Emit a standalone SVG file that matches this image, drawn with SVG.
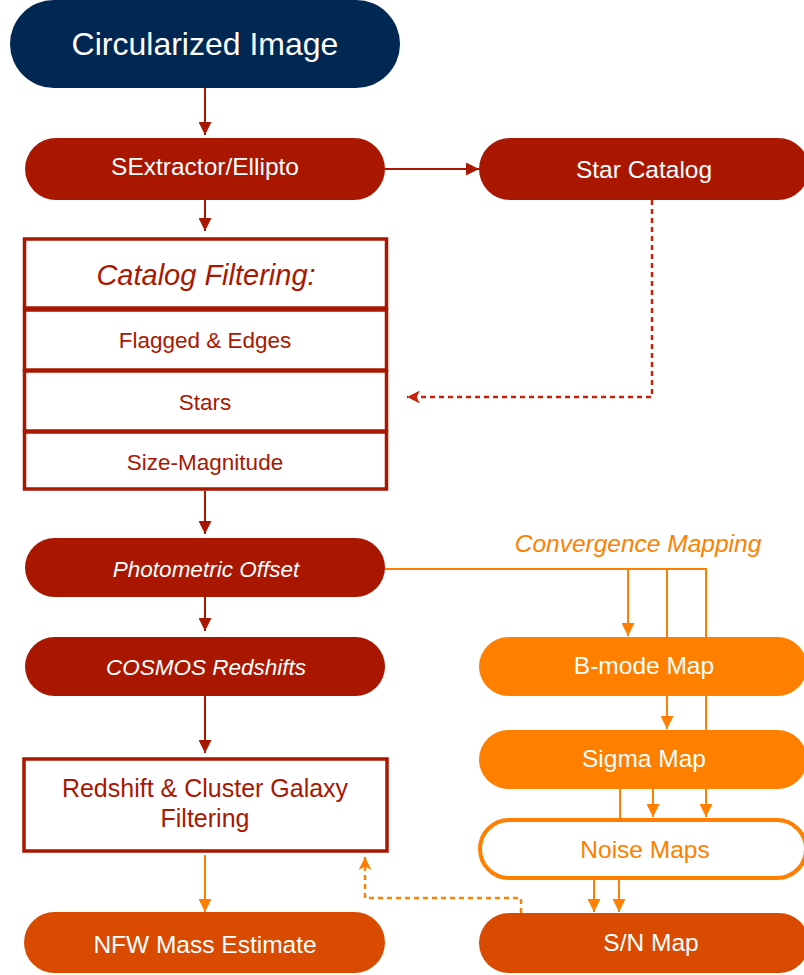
<svg xmlns="http://www.w3.org/2000/svg" width="804" height="975" viewBox="0 0 804 975">
<defs>
<style>
text{font-family:"Liberation Sans",Arial,sans-serif;text-anchor:middle}
.w{fill:#ffffff}
.r{fill:#A91700}
.o{fill:#FF7F00}
.it{font-style:italic}
.navy{fill:#012753}
.red{fill:#A91700}
.org{fill:#FF7F00}
.dorg{fill:#D94B00}
.box{fill:#ffffff;stroke:#A91700;stroke-width:3.5}
.lr{fill:none;stroke:#A91700;stroke-width:2}
.lo{fill:none;stroke:#FF7F00;stroke-width:2}
.dr{fill:none;stroke:#C8200A;stroke-width:2.5;stroke-dasharray:5 4}
.do{fill:none;stroke:#FF7F00;stroke-width:2.5;stroke-dasharray:5 4}
</style>
<marker id="ar" viewBox="0 0 13 13" refX="13" refY="6.5" markerWidth="13" markerHeight="13" markerUnits="userSpaceOnUse" orient="auto"><path d="M0,0 L13,6.5 L0,13 z" fill="#A91700"/></marker>
<marker id="ao" viewBox="0 0 13 13" refX="13" refY="6.5" markerWidth="13" markerHeight="13" markerUnits="userSpaceOnUse" orient="auto"><path d="M0,0 L13,6.5 L0,13 z" fill="#FF7F00"/></marker>
<marker id="adr" viewBox="0 0 13 13" refX="13" refY="6.5" markerWidth="13" markerHeight="13" markerUnits="userSpaceOnUse" orient="auto"><path d="M0,0 L13,6.5 L0,13 L3.5,6.5 z" fill="#C8200A"/></marker>
<marker id="ado" viewBox="0 0 13 13" refX="13" refY="6.5" markerWidth="13" markerHeight="13" markerUnits="userSpaceOnUse" orient="auto"><path d="M0,0 L13,6.5 L0,13 L3.5,6.5 z" fill="#FF7F00"/></marker>
</defs>
<rect width="804" height="975" fill="#ffffff"/>
<g id="connectors">
<path class="lr" d="M205,88 V135" marker-end="url(#ar)"/>
<path class="lr" d="M205,200 V231" marker-end="url(#ar)"/>
<path class="lr" d="M385,169 H479" marker-end="url(#ar)"/>
<path class="dr" d="M652,200 V397 H407" marker-end="url(#adr)"/>
<path class="lr" d="M205,491 V534" marker-end="url(#ar)"/>
<path class="lr" d="M205,597 V631" marker-end="url(#ar)"/>
<path class="lr" d="M205,696 V753" marker-end="url(#ar)"/>
<path class="lo" d="M205,855 V912" marker-end="url(#ao)"/>
<path class="lo" d="M385,569 H706 V817" marker-end="url(#ao)"/>
<path class="lo" d="M628,569 V636" marker-end="url(#ao)"/>
<path class="lo" d="M667,569 V729" marker-end="url(#ao)"/>
<path class="lo" d="M620,789 V820"/>
<path class="lo" d="M653,789 V817" marker-end="url(#ao)"/>
<path class="lo" d="M594,878 V912" marker-end="url(#ao)"/>
<path class="lo" d="M619,878 V912" marker-end="url(#ao)"/>
<path class="do" d="M521,913 V898 H365 V857" marker-end="url(#ado)"/>
</g>
<g id="circularized-image">
<rect class="navy" x="10" y="0" width="390" height="88" rx="44"/>
<text class="w" x="205" y="55" font-size="32">Circularized Image</text>
</g>
<g id="sextractor">
<rect class="red" x="25" y="138" width="360" height="62" rx="31"/>
<text class="w" x="205" y="175" font-size="24.5">SExtractor/Ellipto</text>
</g>
<g id="star-catalog">
<rect class="red" x="479" y="138" width="330" height="62" rx="31"/>
<text class="w" x="644" y="178" font-size="24.5">Star Catalog</text>
</g>
<g id="catalog-filtering">
<rect class="box" x="24.5" y="239" width="362" height="69"/>
<rect class="box" x="24.5" y="310" width="362" height="60"/>
<rect class="box" x="24.5" y="371" width="362" height="60"/>
<rect class="box" x="24.5" y="432" width="362" height="57"/>
<text class="r it" x="206" y="285" font-size="29">Catalog Filtering:</text>
<text class="r" x="205" y="348" font-size="22.5">Flagged &amp; Edges</text>
<text class="r" x="205" y="410" font-size="22.5">Stars</text>
<text class="r" x="205" y="470" font-size="22.5">Size-Magnitude</text>
</g>
<g id="photometric-offset">
<rect class="red" x="25" y="538" width="360" height="59" rx="29.5"/>
<text class="w it" x="206" y="577" font-size="22.5">Photometric Offset</text>
</g>
<g id="cosmos-redshifts">
<rect class="red" x="25" y="637" width="360" height="59" rx="29.5"/>
<text class="w it" x="206" y="675" font-size="22.5">COSMOS Redshifts</text>
</g>
<g id="redshift-filtering">
<rect class="box" x="24" y="759" width="363" height="92" stroke-width="4"/>
<text class="r" x="205" y="797" font-size="25">Redshift &amp; Cluster Galaxy</text>
<text class="r" x="205" y="827" font-size="25">Filtering</text>
</g>
<g id="nfw-mass-estimate">
<rect class="dorg" x="24" y="912" width="361" height="61" rx="30.5"/>
<text class="w" x="205" y="953" font-size="24.5">NFW Mass Estimate</text>
</g>
<g id="convergence-mapping-label">
<text class="o it" x="638" y="552" font-size="24.5">Convergence Mapping</text>
</g>
<g id="b-mode-map">
<rect class="org" x="479" y="637" width="328" height="59" rx="29.5"/>
<text class="w" x="644" y="674" font-size="24.5">B-mode Map</text>
</g>
<g id="sigma-map">
<rect class="org" x="479" y="730" width="328" height="59" rx="29.5"/>
<text class="w" x="644" y="767" font-size="24.5">Sigma Map</text>
</g>
<g id="noise-maps">
<rect x="480" y="820" width="326" height="58" rx="29" fill="#ffffff" stroke="#FF7F00" stroke-width="4"/>
<text class="o" x="645" y="858" font-size="24.5">Noise Maps</text>
</g>
<g id="sn-map">
<rect class="dorg" x="479" y="913" width="330" height="60" rx="30"/>
<text class="w" x="651" y="951" font-size="24.5">S/N Map</text>
</g>
</svg>
